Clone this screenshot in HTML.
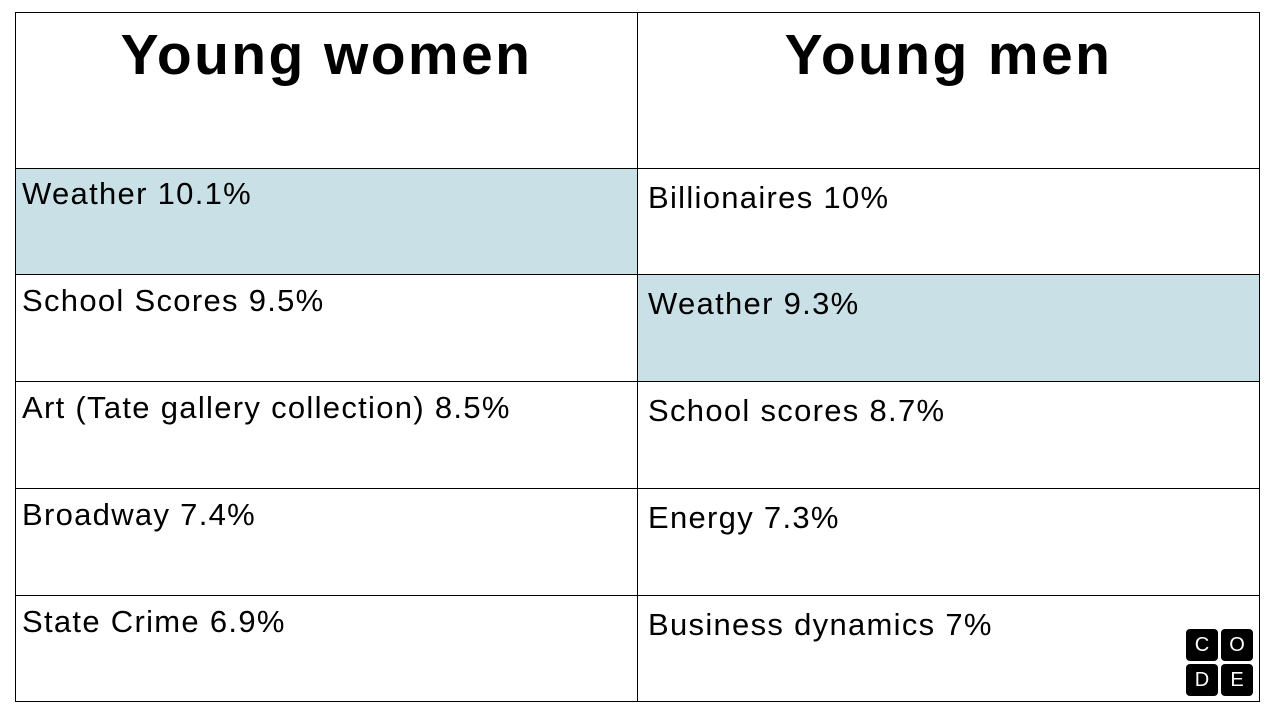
<!DOCTYPE html>
<html><head><meta charset="utf-8"><style>
body{margin:0;width:1280px;height:720px;background:#fff;position:relative;font-family:"Liberation Sans",sans-serif;overflow:hidden}
.c{position:absolute;border:1px solid #000;box-sizing:border-box}
.h{font-weight:bold;font-size:57px;text-align:center;padding-top:9px;letter-spacing:2.4px}
.t{font-size:31px;padding-left:6px;line-height:1;letter-spacing:1.3px}
.blue{background:#c9e0e6}
.sq{position:absolute;width:32px;height:32px;background:#000;border-radius:4px;color:#fff;font-size:20px;text-align:center;line-height:32px}
</style></head><body>
<div class="c h" style="left:15px;top:12px;width:623px;height:157px">Young women</div>
<div class="c h" style="left:637px;top:12px;width:623px;height:157px">Young men</div>

<div class="c t blue" style="left:15px;top:168px;width:623px;height:107px;padding-top:9px">Weather 10.1%</div>
<div class="c t" style="left:15px;top:274px;width:623px;height:108px;padding-top:10px">School Scores 9.5%</div>
<div class="c t" style="left:15px;top:381px;width:623px;height:108px;padding-top:10px">Art (Tate gallery collection) 8.5%</div>
<div class="c t" style="left:15px;top:488px;width:623px;height:108px;padding-top:10px">Broadway 7.4%</div>
<div class="c t" style="left:15px;top:595px;width:623px;height:107px;padding-top:10px">State Crime 6.9%</div>

<div class="c t" style="left:637px;top:168px;width:623px;height:107px;padding-left:10px;padding-top:13px">Billionaires 10%</div>
<div class="c t blue" style="left:637px;top:274px;width:623px;height:108px;padding-left:10px;padding-top:13px">Weather 9.3%</div>
<div class="c t" style="left:637px;top:381px;width:623px;height:108px;padding-left:10px;padding-top:13px">School scores 8.7%</div>
<div class="c t" style="left:637px;top:488px;width:623px;height:108px;padding-left:10px;padding-top:13px">Energy 7.3%</div>
<div class="c t" style="left:637px;top:595px;width:623px;height:107px;padding-left:10px;padding-top:13px">Business dynamics 7%</div>

<div>
<div class="sq" style="left:1186px;top:629px">C</div>
<div class="sq" style="left:1221px;top:629px">O</div>
<div class="sq" style="left:1186px;top:664px">D</div>
<div class="sq" style="left:1221px;top:664px">E</div>
</div>
</body></html>
